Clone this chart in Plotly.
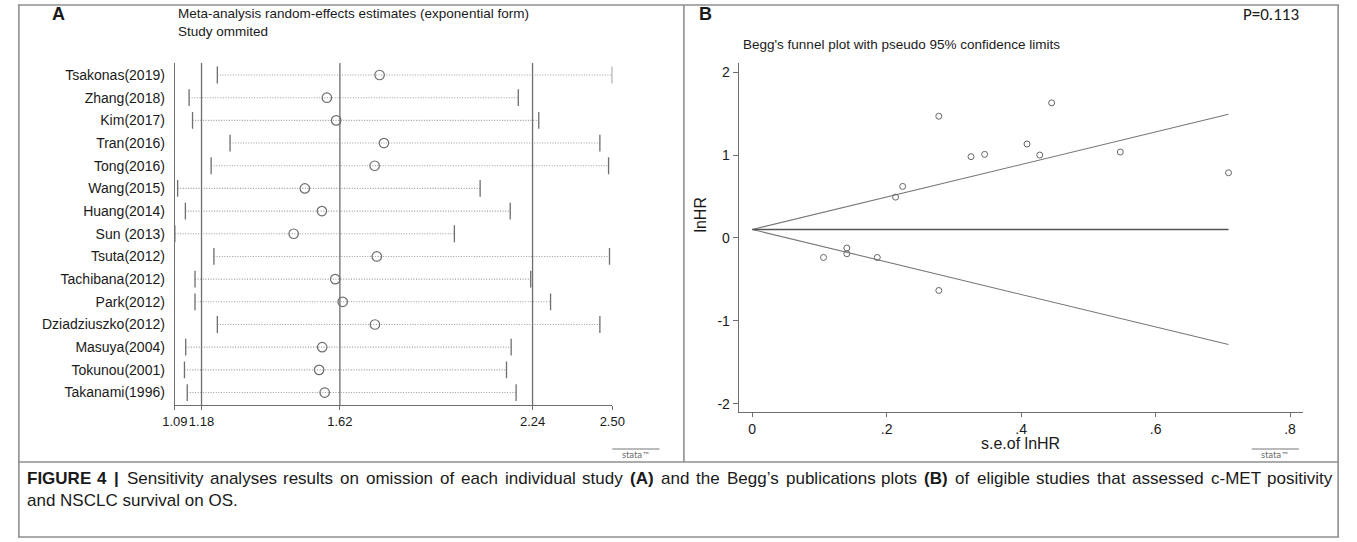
import plotly.graph_objects as go

# ---------------- data ----------------
studies = ["Tsakonas(2019)", "Zhang(2018)", "Kim(2017)", "Tran(2016)", "Tong(2016)",
           "Wang(2015)", "Huang(2014)", "Sun (2013)", "Tsuta(2012)", "Tachibana(2012)",
           "Park(2012)", "Dziadziuszko(2012)", "Masuya(2004)", "Tokunou(2001)", "Takanami(1996)"]
est_omit = [1.750, 1.580, 1.610, 1.764, 1.734, 1.509, 1.564, 1.473, 1.741, 1.607,
            1.631, 1.735, 1.565, 1.555, 1.573]
lower_omit = [1.227, 1.136, 1.147, 1.268, 1.207, 1.099, 1.124, 1.090, 1.216, 1.155,
              1.155, 1.227, 1.125, 1.121, 1.130]
upper_omit = [2.500, 2.197, 2.263, 2.460, 2.488, 2.074, 2.171, 1.991, 2.491, 2.237,
              2.301, 2.460, 2.174, 2.159, 2.190]
overall_vals = [1.176, 1.622, 2.243]        # pooled lower CI, estimate, upper CI
a_ticks = [1.090, 1.176, 1.622, 2.243, 2.500]

se_lnhr = [0.2775, 0.4454, 0.4087, 0.3254, 0.3457, 0.4277, 0.5475, 0.7085, 0.2238,
           0.2132, 0.1407, 0.1407, 0.1060, 0.1860, 0.2775]
lnhr = [1.468, 1.629, 1.133, 0.980, 1.008, 1.000, 1.036, 0.786, 0.621,
        0.492, -0.122, -0.191, -0.236, -0.236, -0.634]
pooled_lnhr = 0.102
funnel_se = [0.0, 0.7085]
b_xticks = [0, 0.2, 0.4, 0.6, 0.8]
b_xticktext = ["0", ".2", ".4", ".6", ".8"]
b_yticks = [-2, -1, 0, 1, 2]
b_yticktext = ["-2", "-1", "0", "1", "2"]

caption_line1 = [("FIGURE", True), ("4", True), ("|", True), ("Sensitivity", False),
                 ("analyses", False), ("results", False), ("on", False), ("omission", False),
                 ("of", False), ("each", False), ("individual", False), ("study", False),
                 ("(A)", True), ("and", False), ("the", False), ("Begg\u2019s", False),
                 ("publications", False), ("plots", False), ("(B)", True), ("of", False),
                 ("eligible", False), ("studies", False), ("that", False), ("assessed", False),
                 ("c-MET", False), ("positivity", False)]
caption_line2 = "and NSCLC survival on OS."

# ---------------- layout helpers ----------------
W, H = 1357, 542
def fx(p):
    return p / W
def fy(p):
    return 1 - p / H

FONT = "Liberation Sans, Arial, sans-serif"
GRAY = "#6e6e6e"
TXT = "#1a1a1a"

# Arial / Liberation Sans advance widths (1/1000 em) for caption justification
REG = {" ": 278, "'": 191, "\u2019": 222, "(": 333, ")": 333, "-": 333, ".": 278, "|": 260}
for ch, w in zip("abcdefghijklmnopqrstuvwxyz",
                 [556, 556, 500, 556, 556, 278, 556, 556, 222, 222, 500, 222, 833, 556, 556,
                  556, 556, 333, 500, 278, 556, 500, 722, 500, 500, 500]):
    REG[ch] = w
for ch, w in zip("ABCDEFGHIJKLMNOPQRSTUVWXYZ",
                 [667, 667, 722, 722, 667, 611, 778, 722, 278, 500, 667, 556, 833, 722, 778,
                  667, 778, 722, 667, 611, 722, 667, 944, 667, 667, 611]):
    REG[ch] = w
for d in "0123456789":
    REG[d] = 556
BOLD = {"A": 722, "B": 722, "E": 667, "F": 611, "G": 778, "I": 278, "R": 722, "U": 722,
        "(": 333, ")": 333, "|": 280, "4": 556, " ": 278}

def word_w(word, bold, size):
    tab = BOLD if bold else REG
    return sum(tab.get(c, REG.get(c, 556)) for c in word) * size / 1000.0

fig = go.Figure()

# ---- Panel A: dotted CI lines ----
xs, ys = [], []
for s, lo, hi in zip(studies, lower_omit, upper_omit):
    xs += [lo, hi, None]
    ys += [s, s, None]
fig.add_trace(go.Scatter(x=xs, y=ys, mode="lines", xaxis="x", yaxis="y",
                         line=dict(color="#9c9c9c", width=1.1, dash="1px,1.6px"),
                         hoverinfo="skip", showlegend=False))
fig.add_trace(go.Scatter(x=lower_omit + upper_omit, y=studies + studies, mode="markers",
                         xaxis="x", yaxis="y",
                         marker=dict(symbol="line-ns", size=12,
                                     line=dict(color=GRAY, width=1.3)),
                         showlegend=False))
fig.add_trace(go.Scatter(x=est_omit, y=studies, mode="markers", xaxis="x", yaxis="y",
                         marker=dict(symbol="circle-open", size=9.5,
                                     line=dict(color=GRAY, width=1.2), color=GRAY),
                         showlegend=False))

# ---- Panel B: funnel ----
fl_upper = [pooled_lnhr + 1.96 * s for s in funnel_se]
fl_lower = [pooled_lnhr - 1.96 * s for s in funnel_se]
fig.add_trace(go.Scatter(x=funnel_se, y=fl_upper, mode="lines", xaxis="x2", yaxis="y2",
                         line=dict(color="#777777", width=1.1), showlegend=False))
fig.add_trace(go.Scatter(x=funnel_se, y=fl_lower, mode="lines", xaxis="x2", yaxis="y2",
                         line=dict(color="#777777", width=1.1), showlegend=False))
fig.add_trace(go.Scatter(x=funnel_se, y=[pooled_lnhr, pooled_lnhr], mode="lines",
                         xaxis="x2", yaxis="y2",
                         line=dict(color="#555555", width=1.4), showlegend=False))
fig.add_trace(go.Scatter(x=se_lnhr, y=lnhr, mode="markers", xaxis="x2", yaxis="y2",
                         marker=dict(symbol="circle-open", size=6,
                                     line=dict(color="#666666", width=1), color="#666666"),
                         showlegend=False))

shapes = []
for v in overall_vals:
    shapes.append(dict(type="line", xref="x", yref="y domain", x0=v, x1=v, y0=0, y1=1,
                       line=dict(color=GRAY, width=1.3)))

BORDER = "#8f8f8f"
def hline(y, x0, x1, w=1.6, c=BORDER):
    shapes.append(dict(type="line", xref="paper", yref="paper", x0=fx(x0), x1=fx(x1),
                       y0=fy(y), y1=fy(y), line=dict(color=c, width=w)))
def vline(x, y0, y1, w=1.6, c=BORDER):
    shapes.append(dict(type="line", xref="paper", yref="paper", x0=fx(x), x1=fx(x),
                       y0=fy(y0), y1=fy(y1), line=dict(color=c, width=w)))
hline(5, 5, 1352)
hline(537, 5, 1352)
vline(6, 5, 537)
vline(1351, 5, 537)
hline(462, 5, 1352)
vline(684, 5, 462)

hline(449, 611, 659, w=1, c="#777777")
hline(449, 1263, 1311, w=1, c="#777777")

annotations = []
def txt(x, y, s, size, anchor="left", color=TXT, angle=0, family=FONT):
    annotations.append(dict(xref="paper", yref="paper", x=fx(x), y=fy(y), text=s,
                            showarrow=False, xanchor=anchor, yanchor="middle",
                            textangle=angle,
                            font=dict(size=size, color=color, family=family)))

txt(38, 14, "<b>A</b>", 18)
txt(166, 13, "Meta-analysis random-effects estimates (exponential form)", 13.5)
txt(166, 32, "Study ommited", 13.5)
txt(697, 14, "<b>B</b>", 18)
txt(742, 44, "Begg's funnel plot with pseudo 95% confidence limits", 13.5)
txt(1313, 15, "P=0.113", 17, anchor="right", family="Carlito, Liberation Sans, sans-serif")
txt(700, 215, "lnHR", 16, anchor="center", angle=-90)
txt(1027, 443, "s.e.of lnHR", 16, anchor="center")
txt(635, 455, "stata\u2122", 8, anchor="center", color="#666666", family="DejaVu Sans")
txt(1287, 455, "stata\u2122", 8, anchor="center", color="#666666", family="DejaVu Sans")

# justified caption line 1
CAP = 17
x_left, x_right = 12, 1342
widths = [word_w(w, b, CAP) for w, b in caption_line1]
gap = (x_right - x_left - sum(widths)) / (len(caption_line1) - 1)
gap = max(gap, 0.2 * CAP)
xpos = x_left
for (w, b), ww in zip(caption_line1, widths):
    txt(xpos, 478, f"<b>{w}</b>" if b else w, CAP)
    xpos += ww + gap
txt(x_left, 500, caption_line2, CAP)

fig.update_layout(
    width=W, height=H, margin=dict(l=0, r=0, t=0, b=0),
    paper_bgcolor="white", plot_bgcolor="white",
    font=dict(family=FONT, color=TXT),
    shapes=shapes, annotations=annotations,
    xaxis=dict(domain=[fx(165), fx(611)], range=[1.09, 2.50], tickvals=a_ticks,
               ticktext=[f"{v:.2f}" for v in a_ticks], ticks="outside", ticklen=4,
               tickcolor=GRAY, showline=True, linecolor=GRAY, linewidth=1.3,
               showgrid=False, zeroline=False, tickangle=0,
               tickfont=dict(size=13, color=TXT), anchor="y"),
    yaxis=dict(domain=[fy(405), fy(63)], type="category", categoryarray=studies,
               range=[14.55, -0.53], showline=True, linecolor=GRAY, linewidth=1.3,
               ticks="", showgrid=False, zeroline=False, ticklabelstandoff=6,
               tickfont=dict(size=14, color=TXT), anchor="x"),
    xaxis2=dict(domain=[fx(740), fx(1315)], range=[-0.020, 0.819], tickvals=b_xticks,
                ticktext=b_xticktext, ticks="outside", ticklen=4, tickcolor=GRAY,
                showline=True, linecolor=GRAY, linewidth=1.3, showgrid=False,
                zeroline=False, tickangle=0, tickfont=dict(size=14, color=TXT), anchor="y2"),
    yaxis2=dict(domain=[fy(412), fy(63)], range=[-2.10, 2.11], tickvals=b_yticks,
                ticktext=b_yticktext, ticks="outside", ticklen=5, tickcolor=GRAY,
                showline=True, linecolor=GRAY, linewidth=1.3, showgrid=False,
                zeroline=False, tickfont=dict(size=14, color=TXT), anchor="x2"),
)

fig.write_html("out.html", config={"responsive": False, "displayModeBar": False},
               post_script="document.body.style.margin='0';document.body.style.padding='0';")
